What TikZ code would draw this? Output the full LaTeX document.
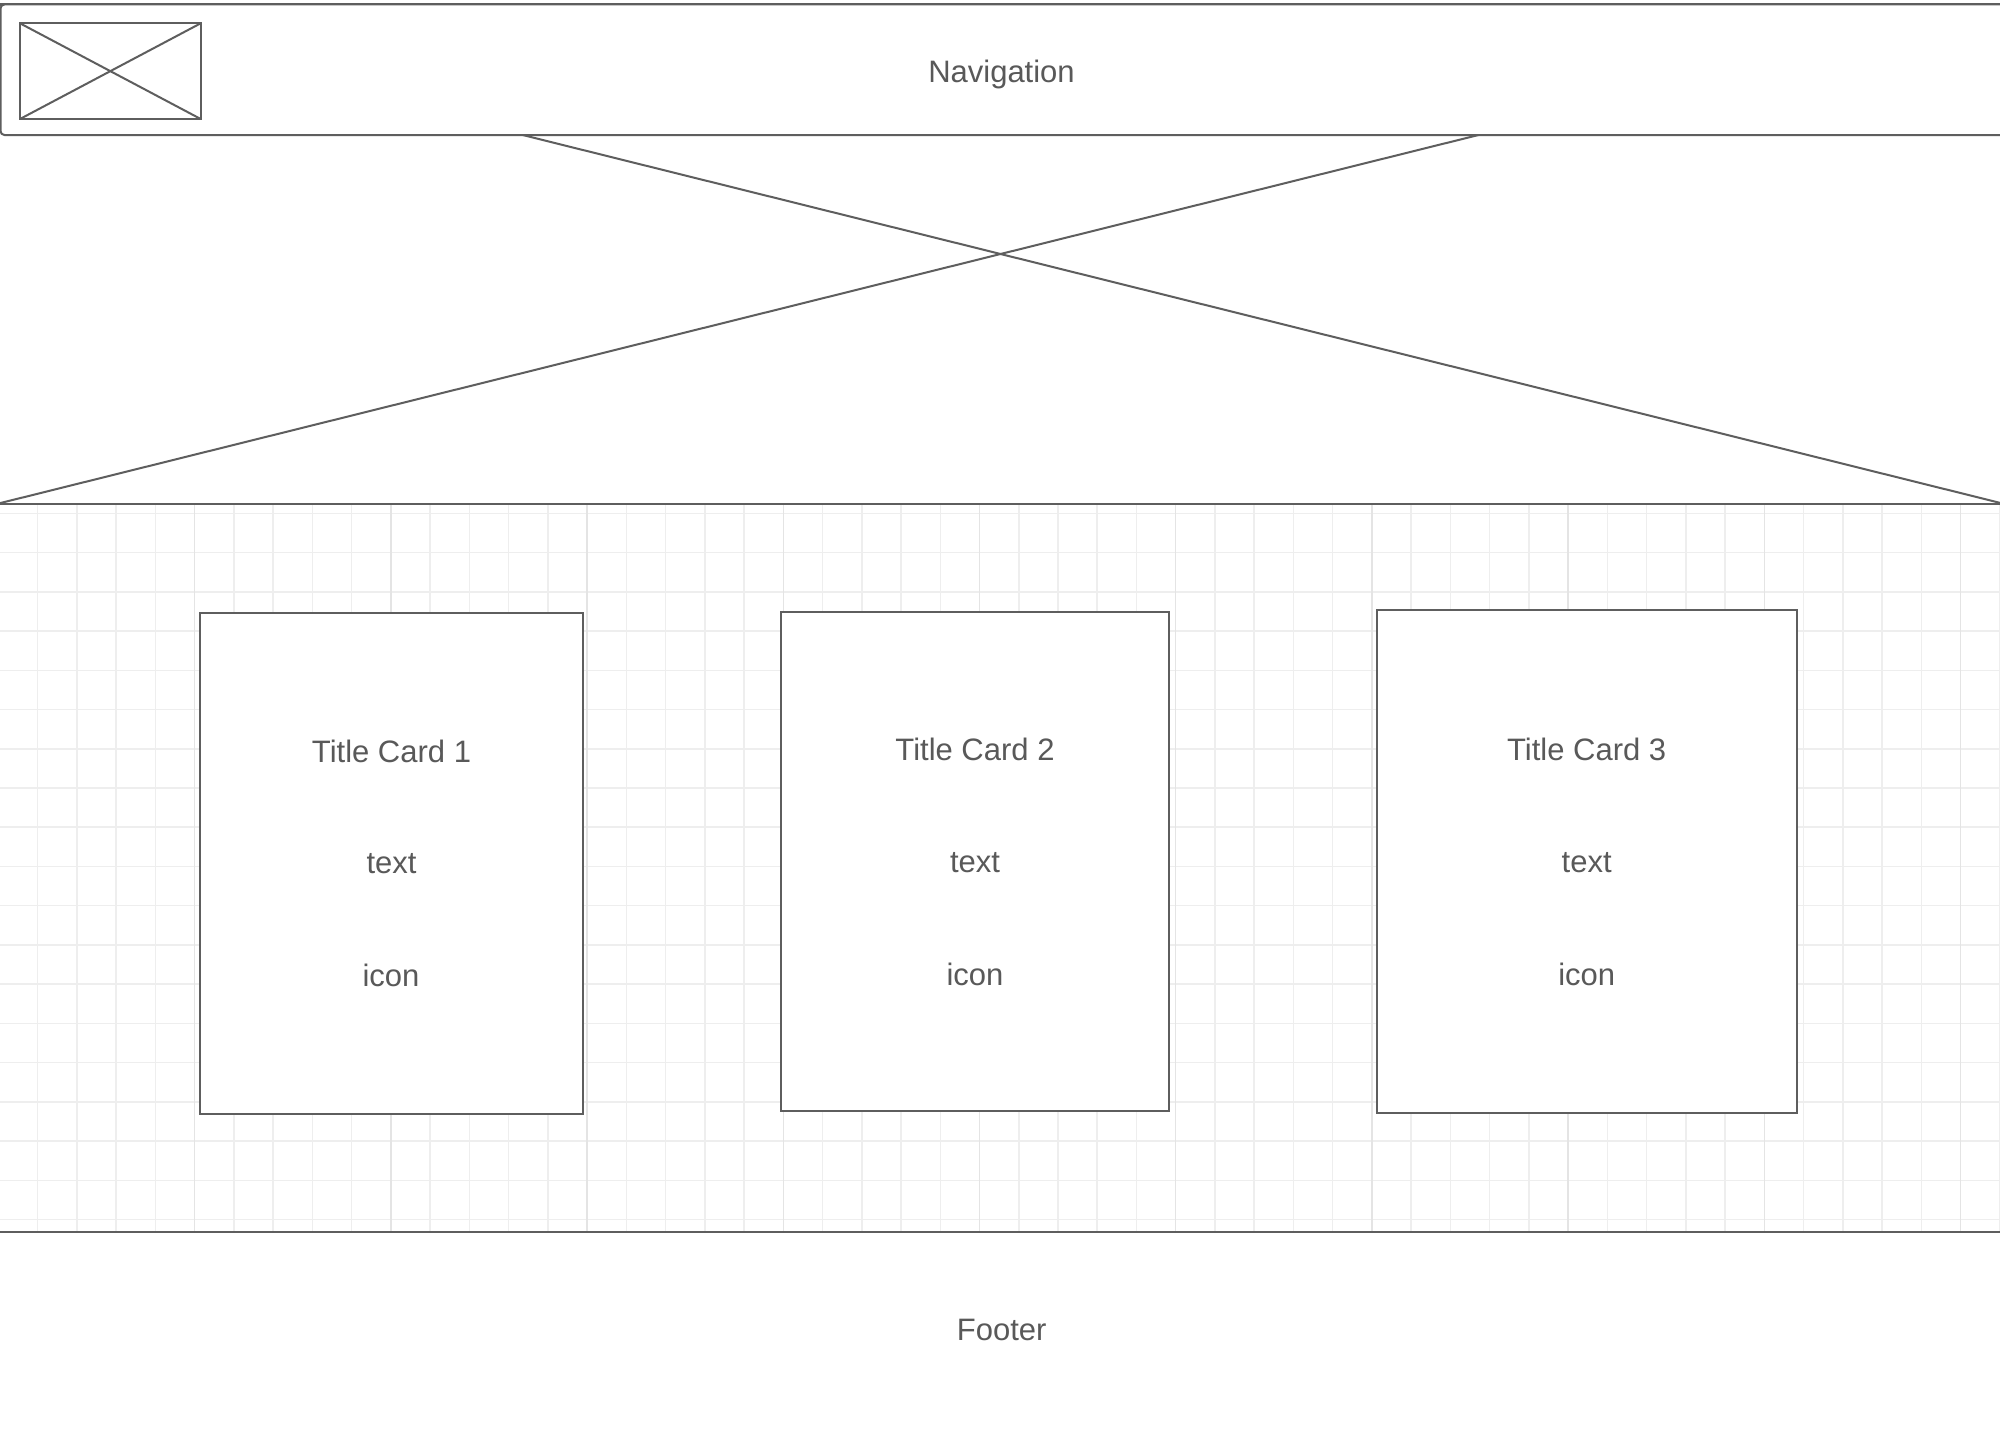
\documentclass[tikz,border=0pt]{standalone}
\usepackage{fontspec}
\setmainfont{Liberation Sans}
\definecolor{linegray}{HTML}{5E5E5E}
\definecolor{txtgray}{HTML}{595959}
\definecolor{gridminor}{HTML}{EEEEEE}
\definecolor{gridmajor}{HTML}{E4E4E4}
\begin{document}
\begin{tikzpicture}[x=0.5pt,y=-0.5pt,
  line/.style={draw=linegray, line width=1pt},
  box/.style={line, fill=white, rectangle, inner sep=0pt, outer sep=0pt},
  lbl/.style={text=txtgray, font=\fontsize{15.5}{18}\selectfont, inner sep=0pt, anchor=base},
  minorline/.style={draw=gridminor, line width=0.75pt},
  majorline/.style={draw=gridmajor, line width=0.75pt}]
\useasboundingbox (0,0) rectangle (2000,1429);
\clip (0,0) rectangle (2000,1429);
% grid panel
\begin{scope}
  \clip (0,504) rectangle (2000,1231);
  \foreach \n in {0,...,18} {
    \draw[minorline] (0,{513.3+\n*39.24}) -- (2000,{513.3+\n*39.24});
  }
  \foreach \k in {-5,...,46} {
    \draw[minorline] ({194.7+\k*39.24},504) -- ({194.7+\k*39.24},1231);
  }
  \foreach \k in {-1,...,9} {
    \draw[majorline] ({194.7+\k*196.2},504) -- ({194.7+\k*196.2},1231);
  }
\end{scope}
\coordinate (gl) at (0,1231.7);
\coordinate (gr) at (2000,1231.7);
\draw[line] (gl) -- (gr);
% hero image placeholder
\node[box, minimum width=1002.05pt, minimum height=249.5pt] (img) at (1000.55,254) {};
\draw[line] (img.north west) -- (img.south east);
\draw[line] (img.north east) -- (img.south west);
% navigation bar
\node[box, rounded corners=2pt, minimum width=1009.75pt, minimum height=65.25pt] (nav) at (1010.25,69.75) {};
\node[box, minimum width=90.35pt, minimum height=47.85pt] (logo) at (110.35,71.15) {};
\draw[line] (logo.north west) -- (logo.south east);
\draw[line] (logo.north east) -- (logo.south west);
\node[lbl] (navtxt) at (1001.5,82.7) {Navigation};
% cards
\node[box, minimum width=191.35pt, minimum height=250.1pt] (card1) at (391.35,863.4) {};
\node[box, minimum width=194.3pt, minimum height=249.65pt] (card2) at (975,861.65) {};
\node[box, minimum width=210pt, minimum height=251.65pt] (card3) at (1586.7,861.65) {};
\node[lbl] (t1) at (391.5,762) {Title Card 1};
\node[lbl] (x1) at (391.5,873.5) {text};
\node[lbl] (i1) at (391,986) {icon};
\node[lbl] (t2) at (975,760) {Title Card 2};
\node[lbl] (x2) at (975,872) {text};
\node[lbl] (i2) at (975,985) {icon};
\node[lbl] (t3) at (1586.7,760) {Title Card 3};
\node[lbl] (x3) at (1586.7,872) {text};
\node[lbl] (i3) at (1586.7,985) {icon};
% footer
\node[lbl] (foot) at (1001.7,1340) {Footer};
\end{tikzpicture}
\end{document}
